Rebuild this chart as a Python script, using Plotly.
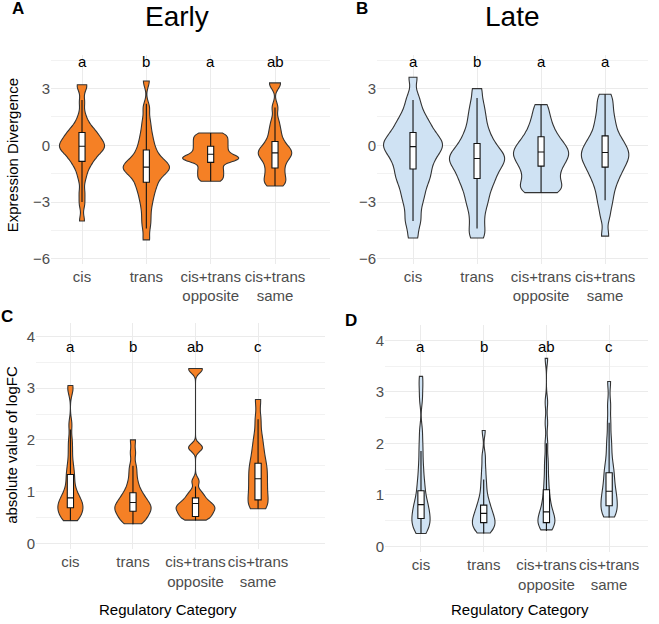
import plotly.graph_objects as go

W, H = 659, 624

# ---------------- data ----------------
categories = ["cis", "trans", "cis+trans opposite", "cis+trans same"]
tick_labels = ["cis", "trans", "cis+trans<br>opposite", "cis+trans<br>same"]
stages = ["Early", "Late"]
panel_labels = ["A", "B", "C", "D"]

# Expression divergence samples (estimated from the figure)
early_div_cis = [3.2, 3.1, 2.3, 1.6, 1.2, 1.0, 0.8, 0.7, 0.6, 0.5, 0.4, 0.3, 0.2, 0.1, 0.0, 0.0,
                 -0.1, -0.1, -0.2, -0.3, -0.4, -0.5, -0.6, -0.8, -0.9, -1.1, -1.4, -1.8, -2.5, -3.1, -4.0]
early_div_trans = [3.4, 2.0, 1.3, 0.8, 0.4, 0.1, -0.2, -0.4, -0.6, -0.8, -0.9, -1.0, -1.1, -1.2, -1.2,
                   -1.3, -1.4, -1.5, -1.7, -1.9, -2.1, -2.3, -2.6, -2.9, -3.3, -3.8, -4.3, -5.0]
early_div_opp = [0.65, 0.5, 0.35, 0.2, 0.05, -0.1, -0.25, -0.4, -0.55, -0.65, -0.7, -0.75, -0.85,
                 -1.1, -1.3, -1.5, -1.7, -1.9]
early_div_same = [3.3, 3.25, 2.0, 1.3, 0.9, 0.6, 0.3, 0.1, -0.1, -0.2, -0.3, -0.4, -0.5, -0.6, -0.7,
                  -0.9, -1.1, -1.3, -1.5, -1.7, -1.9, -2.0, -2.15]
late_div_cis = [3.6, 2.6, 2.1, 1.7, 1.4, 1.2, 1.0, 0.8, 0.6, 0.5, 0.35, 0.2, 0.1, 0.0, -0.1, -0.2,
                -0.35, -0.5, -0.65, -0.8, -1.0, -1.2, -1.4, -1.6, -1.8, -2.0, -2.3, -2.6, -2.9, -3.3,
                -3.8, -4.2, -4.9]
late_div_trans = [3.0, 2.3, 1.8, 1.4, 1.0, 0.7, 0.4, 0.2, 0.0, -0.2, -0.35, -0.5, -0.6, -0.7, -0.8,
                  -0.95, -1.1, -1.25, -1.4, -1.6, -1.8, -2.0, -2.2, -2.5, -2.8, -3.1, -3.5, -4.0,
                  -4.5, -4.9]
late_div_opp = [2.15, 1.7, 1.3, 1.0, 0.7, 0.5, 0.3, 0.1, 0.0, -0.15, -0.3, -0.4, -0.5, -0.6, -0.75,
                -0.9, -1.05, -1.2, -1.4, -1.6, -1.8, -2.0, -2.25, -2.3, -2.4, -2.5]
late_div_same = [2.7, 2.3, 1.9, 1.5, 1.2, 0.9, 0.6, 0.4, 0.2, 0.05, -0.1, -0.25, -0.4, -0.5, -0.6,
                 -0.75, -0.9, -1.05, -1.2, -1.4, -1.6, -1.8, -2.1, -2.4, -2.8, -3.2, -3.8, -4.8]

# |logFC| samples
early_fc_cis = [3.05, 2.95, 2.3, 2.0, 1.8, 1.6, 1.45, 1.35, 1.25, 1.15, 1.05, 0.98, 0.92, 0.88, 0.84,
                0.8, 0.77, 0.74, 0.71, 0.68, 0.65, 0.62, 0.58, 0.54, 0.5, 0.47, 0.44]
early_fc_trans = [2.0, 1.75, 1.5, 1.35, 1.2, 1.1, 1.0, 0.95, 0.9, 0.85, 0.8, 0.77, 0.74, 0.71, 0.68,
                  0.65, 0.62, 0.59, 0.55, 0.5, 0.46, 0.42, 0.38]
early_fc_opp = [3.38, 3.35, 1.85, 1.85, 1.2, 1.0, 0.92, 0.85, 0.8, 0.76, 0.72, 0.7, 0.67, 0.64, 0.6,
                0.56, 0.52, 0.48, 0.45]
early_fc_same = [2.78, 2.4, 2.1, 1.9, 1.75, 1.6, 1.5, 1.4, 1.3, 1.2, 1.1, 1.0, 0.9, 0.8, 0.72, 0.67]
late_fc_cis = [3.3, 3.1, 2.85, 2.25, 2.0, 1.8, 1.6, 1.45, 1.3, 1.2, 1.1, 1.0, 0.92, 0.85, 0.8, 0.75,
               0.7, 0.65, 0.6, 0.56, 0.52, 0.48, 0.44, 0.4, 0.35, 0.3, 0.25]
late_fc_trans = [2.25, 1.75, 1.5, 1.3, 1.15, 1.0, 0.9, 0.82, 0.76, 0.7, 0.65, 0.6, 0.56, 0.52, 0.48,
                 0.45, 0.42, 0.38, 0.34, 0.3, 0.26]
late_fc_opp = [3.65, 2.8, 2.4, 2.0, 1.7, 1.5, 1.3, 1.15, 1.0, 0.9, 0.8, 0.72, 0.66, 0.6, 0.56, 0.52,
               0.48, 0.44, 0.4, 0.36, 0.32]
late_fc_same = [3.2, 2.75, 2.4, 2.1, 1.9, 1.7, 1.55, 1.45, 1.35, 1.25, 1.15, 1.07, 1.0, 0.93, 0.87,
                0.8, 0.74, 0.68, 0.62, 0.57]

# box summary statistics per panel (cis, trans, opposite, same)
early_div_q1 = [-0.85, -1.95, -0.9, -1.2]
early_div_med = [-0.05, -1.15, -0.47, -0.4]
early_div_q3 = [0.68, -0.25, -0.05, 0.2]
early_div_lo = [-3.0, -4.4, -1.9, -2.15]
early_div_hi = [2.4, 2.2, 0.65, 2.0]

late_div_q1 = [-1.25, -1.75, -1.1, -1.15]
late_div_med = [-0.07, -0.7, -0.35, -0.38]
late_div_q3 = [0.68, 0.1, 0.45, 0.5]
late_div_lo = [-4.0, -4.4, -2.5, -2.9]
late_div_hi = [2.4, 2.5, 2.15, 2.7]

early_fc_q1 = [0.69, 0.62, 0.52, 0.84]
early_fc_med = [0.88, 0.79, 0.77, 1.25]
early_fc_q3 = [1.33, 0.98, 0.88, 1.55]
early_fc_lo = [0.44, 0.37, 0.44, 0.67]
early_fc_hi = [2.2, 1.5, 1.1, 2.4]

late_fc_q1 = [0.54, 0.46, 0.46, 0.79]
late_fc_med = [0.81, 0.64, 0.67, 1.07]
late_fc_q3 = [1.08, 0.8, 1.1, 1.43]
late_fc_lo = [0.25, 0.25, 0.3, 0.56]
late_fc_hi = [1.85, 1.3, 2.0, 2.4]

# significance letters
early_div_letters = ["a", "b", "a", "ab"]
late_div_letters = ["a", "b", "a", "a"]
early_fc_letters = ["a", "b", "ab", "c"]
late_fc_letters = ["a", "b", "ab", "c"]

# ---------------- styles ----------------
ORANGE = "#F58025"
BLUE = "#CFE2F3"
OUTLINE = "#333333"
FONT = "Arial, Liberation Sans, sans-serif"
GRID = "#EBEBEB"

panels = [
    dict(key="A", samples=[early_div_cis, early_div_trans, early_div_opp, early_div_same],
         stats=(early_div_q1, early_div_med, early_div_q3, early_div_lo, early_div_hi),
         letters=early_div_letters, letter_y=4.42, color=ORANGE,
         xpx=(51, 330), ypx=(55, 265), xr=(0.518, 4.855), yr=(-6.26, 4.79),
         bw=[0.3, 0.32, 0.17, 0.28], widths=[0.7, 0.72, 0.87, 0.52], boxw=0.095,
         yt=[-6, -3, 0, 3], ydt=1.5),
    dict(key="B", samples=[late_div_cis, late_div_trans, late_div_opp, late_div_same],
         stats=(late_div_q1, late_div_med, late_div_q3, late_div_lo, late_div_hi),
         letters=late_div_letters, letter_y=4.42, color=BLUE,
         xpx=(377, 648), ypx=(55, 265), xr=(0.4375, 4.67), yr=(-6.26, 4.79),
         bw=[0.38, 0.38, 0.38, 0.38], widths=[0.92, 0.86, 0.86, 0.74], boxw=0.095,
         yt=[-6, -3, 0, 3], ydt=1.5),
    dict(key="C", samples=[early_fc_cis, early_fc_trans, early_fc_opp, early_fc_same],
         stats=(early_fc_q1, early_fc_med, early_fc_q3, early_fc_lo, early_fc_hi),
         letters=early_fc_letters, letter_y=3.8, color=ORANGE,
         xpx=(36, 325), ypx=(325, 552), xr=(0.45, 5.07), yr=(-0.115, 4.25),
         bw=[0.12, 0.1, 0.075, 0.15], widths=[0.4, 0.58, 0.62, 0.32], boxw=0.1,
         yt=[0, 1, 2, 3, 4], ydt=0.5),
    dict(key="D", samples=[late_fc_cis, late_fc_trans, late_fc_opp, late_fc_same],
         stats=(late_fc_q1, late_fc_med, late_fc_q3, late_fc_lo, late_fc_hi),
         letters=late_fc_letters, letter_y=3.88, color=BLUE,
         xpx=(385, 648), ypx=(327, 555), xr=(0.426, 4.62), yr=(-0.116, 4.29),
         bw=[0.14, 0.12, 0.13, 0.15], widths=[0.29, 0.36, 0.27, 0.26], boxw=0.1,
         yt=[0, 1, 2, 3, 4], ydt=0.5),
]

fig = go.Figure()
positions = [1, 2, 3, 4]
annotations = []

for i, p in enumerate(panels):
    xa = "x" if i == 0 else f"x{i+1}"
    ya = "y" if i == 0 else f"y{i+1}"
    for j, s in enumerate(p["samples"]):
        fig.add_trace(go.Violin(
            y=s, x0=positions[j], xaxis=xa, yaxis=ya,
            spanmode="hard", bandwidth=p["bw"][j], width=p["widths"][j],
            scalemode="width", scalegroup=f"{p['key']}{j}",
            fillcolor=p["color"], opacity=1,
            line=dict(color=OUTLINE, width=1.1), points=False,
            box_visible=False, meanline_visible=False, showlegend=False,
            hoverinfo="skip"))
    q1, med, q3, lo, hi = p["stats"]
    fig.add_trace(go.Box(
        x=positions, q1=q1, median=med, q3=q3, lowerfence=lo, upperfence=hi,
        xaxis=xa, yaxis=ya, width=p["boxw"], whiskerwidth=0,
        fillcolor="white", line=dict(color="#111111", width=1.1),
        boxpoints=False, showlegend=False, hoverinfo="skip"))
    for j, letter in enumerate(p["letters"]):
        annotations.append(dict(x=positions[j], y=p["letter_y"], xref=xa, yref=ya,
                                text=letter, showarrow=False,
                                font=dict(family=FONT, size=15, color="black")))
    x0, x1 = p["xpx"]
    y0, y1 = p["ypx"]
    axis_x = dict(domain=[x0 / W, x1 / W], range=list(p["xr"]), tickvals=positions,
                  ticktext=tick_labels, showgrid=True, gridcolor=GRID, gridwidth=1.1,
                  zeroline=False, showline=False, ticks="", tickangle=0,
                  ticklabelstandoff=2,
                  tickfont=dict(family=FONT, size=15, color="#4D4D4D"),
                  anchor=ya, fixedrange=True)
    axis_y = dict(domain=[1 - y1 / H, 1 - y0 / H], range=list(p["yr"]), tickvals=p["yt"],
                  showgrid=True, gridcolor=GRID, gridwidth=1.1, zeroline=False,
                  showline=False, ticks="",
                  tickfont=dict(family=FONT, size=15, color="#4D4D4D"),
                  minor=dict(dtick=p["ydt"], tick0=0, showgrid=True, gridcolor="#F2F2F2",
                             gridwidth=0.6),
                  anchor=xa, fixedrange=True)
    suffix = "" if i == 0 else str(i + 1)
    fig.update_layout(**{f"xaxis{suffix}": axis_x, f"yaxis{suffix}": axis_y})

def pa(xpx, ypx, text, size, angle=0, color="black"):
    return dict(x=xpx / W, y=1 - ypx / H, xref="paper", yref="paper", text=text,
                showarrow=False, textangle=angle, xanchor="center", yanchor="middle",
                font=dict(family=FONT, size=size, color=color))

annotations += [
    pa(177, 17, stages[0], 28),
    pa(512, 17, stages[1], 28),
    pa(18, 9, "<b>" + panel_labels[0] + "</b>", 17),
    pa(362, 9, "<b>" + panel_labels[1] + "</b>", 17),
    pa(7, 318, "<b>" + panel_labels[2] + "</b>", 17),
    pa(351, 322, "<b>" + panel_labels[3] + "</b>", 17),
    pa(12, 156, "Expression Divergence", 15, angle=-90),
    pa(12, 447, "absolute value of logFC", 15, angle=-90),
    pa(168, 612, "Regulatory Category", 15),
    pa(520, 612, "Regulatory Category", 15),
]

fig.update_layout(width=W, height=H, margin=dict(l=0, r=0, t=0, b=0),
                  paper_bgcolor="white", plot_bgcolor="white",
                  annotations=annotations, showlegend=False,
                  violinmode="overlay", boxmode="overlay",
                  violingap=0, violingroupgap=0, boxgap=0, boxgroupgap=0)

fig.write_html("out.html", config={"displayModeBar": False},
               post_script="document.body.style.margin='0px';document.body.style.padding='0px';")
